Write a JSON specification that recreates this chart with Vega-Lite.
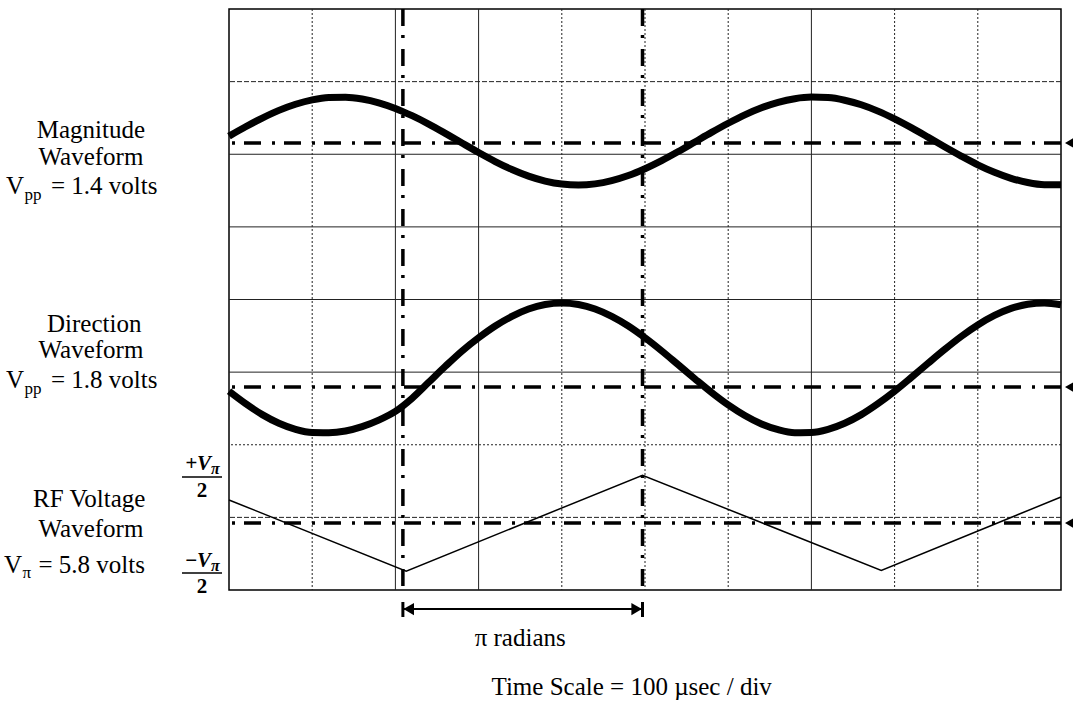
{
  "$schema": "https://vega.github.io/schema/vega-lite/v6.json",
  "width": 832,
  "height": 581,
  "autosize": {"type": "none"},
  "padding": {"left": 229, "top": 9, "right": 12, "bottom": 112},
  "background": "white",
  "config": {
    "view": {"stroke": "#000", "strokeWidth": 1.5},
    "text": {"font": "Liberation Serif", "color": "#000"}
  },
  "datasets": {
    "mag": [
      {"t": 0, "v": 6.249}, {"t": 20, "v": 6.378}, {"t": 40, "v": 6.498}, {"t": 60, "v": 6.604},
      {"t": 80, "v": 6.688}, {"t": 100, "v": 6.749}, {"t": 120, "v": 6.782}, {"t": 140, "v": 6.786},
      {"t": 160, "v": 6.761}, {"t": 180, "v": 6.709}, {"t": 200, "v": 6.631}, {"t": 220, "v": 6.531},
      {"t": 240, "v": 6.416}, {"t": 260, "v": 6.288}, {"t": 280, "v": 6.155}, {"t": 300, "v": 6.024},
      {"t": 320, "v": 5.900}, {"t": 340, "v": 5.790}, {"t": 360, "v": 5.699}, {"t": 380, "v": 5.631},
      {"t": 400, "v": 5.589}, {"t": 420, "v": 5.576}, {"t": 440, "v": 5.592}, {"t": 460, "v": 5.637},
      {"t": 480, "v": 5.707}, {"t": 500, "v": 5.801}, {"t": 520, "v": 5.912}, {"t": 540, "v": 6.037},
      {"t": 560, "v": 6.169}, {"t": 580, "v": 6.301}, {"t": 600, "v": 6.427}, {"t": 620, "v": 6.543},
      {"t": 640, "v": 6.640}, {"t": 660, "v": 6.715}, {"t": 680, "v": 6.765}, {"t": 700, "v": 6.787},
      {"t": 720, "v": 6.780}, {"t": 740, "v": 6.744}, {"t": 760, "v": 6.681}, {"t": 780, "v": 6.594},
      {"t": 800, "v": 6.487}, {"t": 820, "v": 6.366}, {"t": 840, "v": 6.236}, {"t": 860, "v": 6.103},
      {"t": 880, "v": 5.975}, {"t": 900, "v": 5.855}, {"t": 920, "v": 5.752}, {"t": 940, "v": 5.669},
      {"t": 960, "v": 5.611}, {"t": 980, "v": 5.581}, {"t": 1000, "v": 5.579}
    ],
    "dir": [
      {"t": 0, "v": 2.737}, {"t": 20, "v": 2.566}, {"t": 40, "v": 2.415}, {"t": 60, "v": 2.296},
      {"t": 80, "v": 2.212}, {"t": 100, "v": 2.168}, {"t": 120, "v": 2.166}, {"t": 140, "v": 2.19},
      {"t": 160, "v": 2.25}, {"t": 180, "v": 2.34}, {"t": 200, "v": 2.46}, {"t": 220, "v": 2.64},
      {"t": 240, "v": 2.86}, {"t": 260, "v": 3.08}, {"t": 280, "v": 3.29}, {"t": 300, "v": 3.473},
      {"t": 320, "v": 3.635}, {"t": 340, "v": 3.768}, {"t": 360, "v": 3.869}, {"t": 380, "v": 3.931},
      {"t": 400, "v": 3.952}, {"t": 420, "v": 3.931}, {"t": 440, "v": 3.869}, {"t": 460, "v": 3.768},
      {"t": 480, "v": 3.635}, {"t": 500, "v": 3.473}, {"t": 520, "v": 3.293}, {"t": 540, "v": 3.101},
      {"t": 560, "v": 2.908}, {"t": 580, "v": 2.720}, {"t": 600, "v": 2.549}, {"t": 620, "v": 2.403},
      {"t": 640, "v": 2.286}, {"t": 660, "v": 2.207}, {"t": 680, "v": 2.166}, {"t": 700, "v": 2.168},
      {"t": 720, "v": 2.212}, {"t": 740, "v": 2.296}, {"t": 760, "v": 2.415}, {"t": 780, "v": 2.566},
      {"t": 800, "v": 2.737}, {"t": 820, "v": 2.926}, {"t": 840, "v": 3.120}, {"t": 860, "v": 3.311},
      {"t": 880, "v": 3.491}, {"t": 900, "v": 3.649}, {"t": 920, "v": 3.780}, {"t": 940, "v": 3.877},
      {"t": 960, "v": 3.935}, {"t": 980, "v": 3.952}, {"t": 1000, "v": 3.927}
    ],
    "rf": [
      {"t": 0, "v": 1.24}, {"t": 213, "v": 0.26}, {"t": 497, "v": 1.58}, {"t": 784, "v": 0.27}, {"t": 1000, "v": 1.28}
    ],
    "vgridSolid": [{"t": 200}, {"t": 300}, {"t": 700}],
    "vgridDotted": [{"t": 100}, {"t": 400}, {"t": 500}, {"t": 600}, {"t": 800}, {"t": 900}],
    "hgridSolid": [{"v": 6}, {"v": 5}, {"v": 4}, {"v": 3}],
    "hgridDashed": [{"v": 7}, {"v": 1}],
    "hgridDotted": [{"v": 2}],
    "cursors": [{"t": 209}, {"t": 497}],
    "refs": [{"t": 1010, "v": 6.155}, {"t": 1010, "v": 2.795}, {"t": 1010, "v": 0.9225}],
    "labels": [
      {"t": -166, "v": 6.224, "label": "Magnitude"},
      {"t": -166, "v": 5.852, "label": "Waveform"},
      {"t": -162, "v": 3.552, "label": "Direction"},
      {"t": -166, "v": 3.194, "label": "Waveform"},
      {"t": -168, "v": 1.143, "label": "RF Voltage"},
      {"t": -166, "v": 0.730, "label": "Waveform"},
      {"t": 350, "v": -0.77, "label": "π radians"},
      {"t": 484, "v": -1.446, "label": "Time Scale = 100 µsec / div"}
    ],
    "vLetters": [
      {"t": -246.4, "v": 5.453, "label": "V"},
      {"t": -246.4, "v": 2.781, "label": "V"},
      {"t": -248.8, "v": 0.234, "label": "V"}
    ],
    "vSubs": [
      {"t": -245.8, "v": 5.373, "label": "pp"},
      {"t": -245.8, "v": 2.701, "label": "pp"},
      {"t": -248.2, "v": 0.164, "label": "π"}
    ],
    "vRest": [
      {"t": -214, "v": 5.453, "label": "= 1.4 volts"},
      {"t": -214, "v": 2.781, "label": "= 1.8 volts"},
      {"t": -229, "v": 0.234, "label": "= 5.8 volts"}
    ],
    "fracTop": [
      {"t": -21.5, "v": 1.652, "label": "+V"},
      {"t": -21.5, "v": 0.317, "label": "−V"}
    ],
    "fracPi": [
      {"t": -21.5, "v": 1.60, "label": "π"},
      {"t": -21.5, "v": 0.265, "label": "π"}
    ],
    "fracBottom": [
      {"t": -32.5, "v": 1.281, "label": "2"},
      {"t": -32.5, "v": -0.041, "label": "2"}
    ],
    "fracLines": [
      {"t": -56.5, "t2": -8.4, "v": 1.556},
      {"t": -56.5, "t2": -8.4, "v": 0.234}
    ],
    "span": [{"t": 209, "t2": 497, "v": -0.262}],
    "spanBars": [{"t": 209, "v": -0.165, "v2": -0.372}, {"t": 497, "v": -0.165, "v2": -0.372}],
    "spanHeadL": [{"t": 216, "v": -0.262}],
    "spanHeadR": [{"t": 490, "v": -0.262}]
  },
  "layer": [
    {
      "data": {"name": "vgridSolid"},
      "mark": {"type": "rule", "color": "#222", "strokeWidth": 1},
      "encoding": {"x": {"field": "t", "type": "quantitative", "scale": {"domain": [0, 1000], "nice": false, "zero": false}, "axis": null}}
    },
    {
      "data": {"name": "vgridDotted"},
      "mark": {"type": "rule", "color": "#222", "strokeWidth": 1, "strokeDash": [2, 2]},
      "encoding": {"x": {"field": "t", "type": "quantitative", "axis": null}}
    },
    {
      "data": {"name": "hgridSolid"},
      "mark": {"type": "rule", "color": "#222", "strokeWidth": 1},
      "encoding": {"y": {"field": "v", "type": "quantitative", "scale": {"domain": [0, 8], "nice": false, "zero": false}, "axis": null}}
    },
    {
      "data": {"name": "hgridDashed"},
      "mark": {"type": "rule", "color": "#222", "strokeWidth": 1, "strokeDash": [5, 2]},
      "encoding": {"y": {"field": "v", "type": "quantitative", "axis": null}}
    },
    {
      "data": {"name": "hgridDotted"},
      "mark": {"type": "rule", "color": "#222", "strokeWidth": 1, "strokeDash": [2, 2]},
      "encoding": {"y": {"field": "v", "type": "quantitative", "axis": null}}
    },
    {
      "data": {"name": "cursors"},
      "mark": {"type": "rule", "color": "#000", "strokeWidth": 3.5, "strokeDash": [17, 9, 3, 11]},
      "encoding": {"x": {"field": "t", "type": "quantitative", "axis": null}}
    },
    {
      "data": {"name": "refs"},
      "mark": {"type": "rule", "color": "#000", "strokeWidth": 3.5, "strokeDash": [17, 9, 3, 11]},
      "encoding": {"y": {"field": "v", "type": "quantitative", "axis": null}}
    },
    {
      "data": {"name": "refs"},
      "mark": {"type": "point", "shape": "triangle-left", "filled": true, "color": "#000", "size": 100, "opacity": 1},
      "encoding": {
        "x": {"field": "t", "type": "quantitative", "axis": null},
        "y": {"field": "v", "type": "quantitative", "axis": null}
      }
    },
    {
      "data": {"name": "mag"},
      "mark": {"type": "line", "color": "#000", "strokeWidth": 7, "interpolate": "monotone"},
      "encoding": {
        "x": {"field": "t", "type": "quantitative", "axis": null},
        "y": {"field": "v", "type": "quantitative", "axis": null}
      }
    },
    {
      "data": {"name": "dir"},
      "mark": {"type": "line", "color": "#000", "strokeWidth": 7, "interpolate": "monotone"},
      "encoding": {
        "x": {"field": "t", "type": "quantitative", "axis": null},
        "y": {"field": "v", "type": "quantitative", "axis": null}
      }
    },
    {
      "data": {"name": "rf"},
      "mark": {"type": "line", "color": "#000", "strokeWidth": 1.5},
      "encoding": {
        "x": {"field": "t", "type": "quantitative", "axis": null},
        "y": {"field": "v", "type": "quantitative", "axis": null}
      }
    },
    {
      "data": {"name": "labels"},
      "mark": {"type": "text", "fontSize": 25, "align": "center", "baseline": "alphabetic"},
      "encoding": {
        "x": {"field": "t", "type": "quantitative", "axis": null},
        "y": {"field": "v", "type": "quantitative", "axis": null},
        "text": {"field": "label"}
      }
    },
    {
      "data": {"name": "vLetters"},
      "mark": {"type": "text", "fontSize": 25, "align": "right", "baseline": "alphabetic"},
      "encoding": {
        "x": {"field": "t", "type": "quantitative", "axis": null},
        "y": {"field": "v", "type": "quantitative", "axis": null},
        "text": {"field": "label"}
      }
    },
    {
      "data": {"name": "vSubs"},
      "mark": {"type": "text", "fontSize": 17, "align": "left", "baseline": "alphabetic"},
      "encoding": {
        "x": {"field": "t", "type": "quantitative", "axis": null},
        "y": {"field": "v", "type": "quantitative", "axis": null},
        "text": {"field": "label"}
      }
    },
    {
      "data": {"name": "vRest"},
      "mark": {"type": "text", "fontSize": 25, "align": "left", "baseline": "alphabetic"},
      "encoding": {
        "x": {"field": "t", "type": "quantitative", "axis": null},
        "y": {"field": "v", "type": "quantitative", "axis": null},
        "text": {"field": "label"}
      }
    },
    {
      "data": {"name": "fracTop"},
      "mark": {"type": "text", "fontSize": 21, "fontStyle": "italic", "fontWeight": "bold", "align": "right", "baseline": "alphabetic"},
      "encoding": {
        "x": {"field": "t", "type": "quantitative", "axis": null},
        "y": {"field": "v", "type": "quantitative", "axis": null},
        "text": {"field": "label"}
      }
    },
    {
      "data": {"name": "fracPi"},
      "mark": {"type": "text", "fontSize": 16, "fontStyle": "italic", "fontWeight": "bold", "align": "left", "baseline": "alphabetic"},
      "encoding": {
        "x": {"field": "t", "type": "quantitative", "axis": null},
        "y": {"field": "v", "type": "quantitative", "axis": null},
        "text": {"field": "label"}
      }
    },
    {
      "data": {"name": "fracBottom"},
      "mark": {"type": "text", "fontSize": 21, "fontWeight": "bold", "align": "center", "baseline": "alphabetic"},
      "encoding": {
        "x": {"field": "t", "type": "quantitative", "axis": null},
        "y": {"field": "v", "type": "quantitative", "axis": null},
        "text": {"field": "label"}
      }
    },
    {
      "data": {"name": "fracLines"},
      "mark": {"type": "rule", "color": "#000", "strokeWidth": 1.5},
      "encoding": {
        "x": {"field": "t", "type": "quantitative", "axis": null},
        "x2": {"field": "t2"},
        "y": {"field": "v", "type": "quantitative", "axis": null}
      }
    },
    {
      "data": {"name": "span"},
      "mark": {"type": "rule", "color": "#000", "strokeWidth": 2},
      "encoding": {
        "x": {"field": "t", "type": "quantitative", "axis": null},
        "x2": {"field": "t2"},
        "y": {"field": "v", "type": "quantitative", "axis": null}
      }
    },
    {
      "data": {"name": "spanBars"},
      "mark": {"type": "rule", "color": "#000", "strokeWidth": 3},
      "encoding": {
        "x": {"field": "t", "type": "quantitative", "axis": null},
        "y": {"field": "v", "type": "quantitative", "axis": null},
        "y2": {"field": "v2"}
      }
    },
    {
      "data": {"name": "spanHeadL"},
      "mark": {"type": "point", "shape": "triangle-left", "filled": true, "color": "#000", "size": 150, "opacity": 1},
      "encoding": {
        "x": {"field": "t", "type": "quantitative", "axis": null},
        "y": {"field": "v", "type": "quantitative", "axis": null}
      }
    },
    {
      "data": {"name": "spanHeadR"},
      "mark": {"type": "point", "shape": "triangle-right", "filled": true, "color": "#000", "size": 150, "opacity": 1},
      "encoding": {
        "x": {"field": "t", "type": "quantitative", "axis": null},
        "y": {"field": "v", "type": "quantitative", "axis": null}
      }
    }
  ]
}
